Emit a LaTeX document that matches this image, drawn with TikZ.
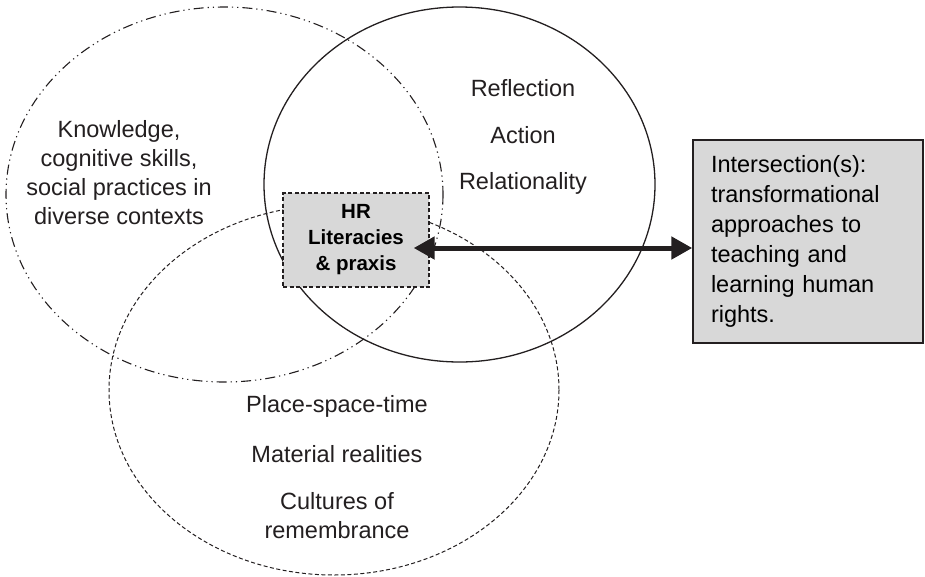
\documentclass[tikz,border=0pt]{standalone}
\usepackage{fontspec}
\setmainfont{Liberation Sans}
\usepackage{tikz}
\usetikzlibrary{arrows.meta, positioning}
\definecolor{boxgray}{RGB}{216,216,216}
\definecolor{inkcolor}{RGB}{35,31,32}

\begin{document}
\begin{tikzpicture}[
    x=1pt, y=-1pt,
    label/.style={font=\fontsize{23.5}{29}\selectfont, text=inkcolor, align=center, inner sep=0pt},
    hrbox/.style={draw=inkcolor, line width=1.4pt, dash pattern=on 4pt off 2.5pt, fill=boxgray, minimum width=146pt, minimum height=94pt, font=\fontsize{20.5}{26}\selectfont\bfseries, align=center, inner sep=0pt},
    outbox/.style={draw=inkcolor, line width=1.5pt, fill=boxgray, minimum width=230pt, minimum height=203pt, text width=194pt, inner xsep=18pt, font=\fontsize{23.5}{30}\selectfont, align=left},
    arrow/.style={{Triangle[length=21pt, width=22pt]}-{Triangle[length=21pt, width=22pt]}, line width=5pt, draw=inkcolor}
]
    \useasboundingbox (0,0) rectangle (925,576);

    % Circles
    \draw[inkcolor, line width=1.1pt, dash pattern=on 10pt off 4pt on 1.2pt off 4pt on 1.2pt off 4pt] (224.5,194.5) ellipse [x radius=218.5, y radius=187.5];
    \draw[inkcolor, line width=1.3pt] (459.5,184.5) ellipse [x radius=195.5, y radius=177.5];
    \draw[inkcolor, line width=1pt, dash pattern=on 4pt off 2.5pt] (334,390) ellipse [x radius=225, y radius=185];

    % Circle texts
    \node[label] (know) at (119,173) {Knowledge,\\cognitive skills,\\social practices in\\diverse contexts};
    \node[label] (refl) at (523,88) {Reflection};
    \node[label] (act) at (523,135) {Action};
    \node[label] (rel) at (523,183) {Relationality};
    \node[label] (place) at (337,406) {Place-space-time};
    \node[label] (mat) at (337,454) {Material realities};
    \node[label] (cult) at (337,516) {Cultures of\\remembrance};

    % Boxes
    \node[hrbox] (hr) at (356,240) {HR\\Literacies\\\& praxis};
    \node[outbox] (inter) at (808,241.5) {Intersection(s):\\transformational\\approaches to\\teaching and\\learning human\\rights.};

    % Arrow
    \draw[arrow, shorten <=-16pt] (hr.east |- 0,248) -- (inter.west |- 0,248);
\end{tikzpicture}
\end{document}
